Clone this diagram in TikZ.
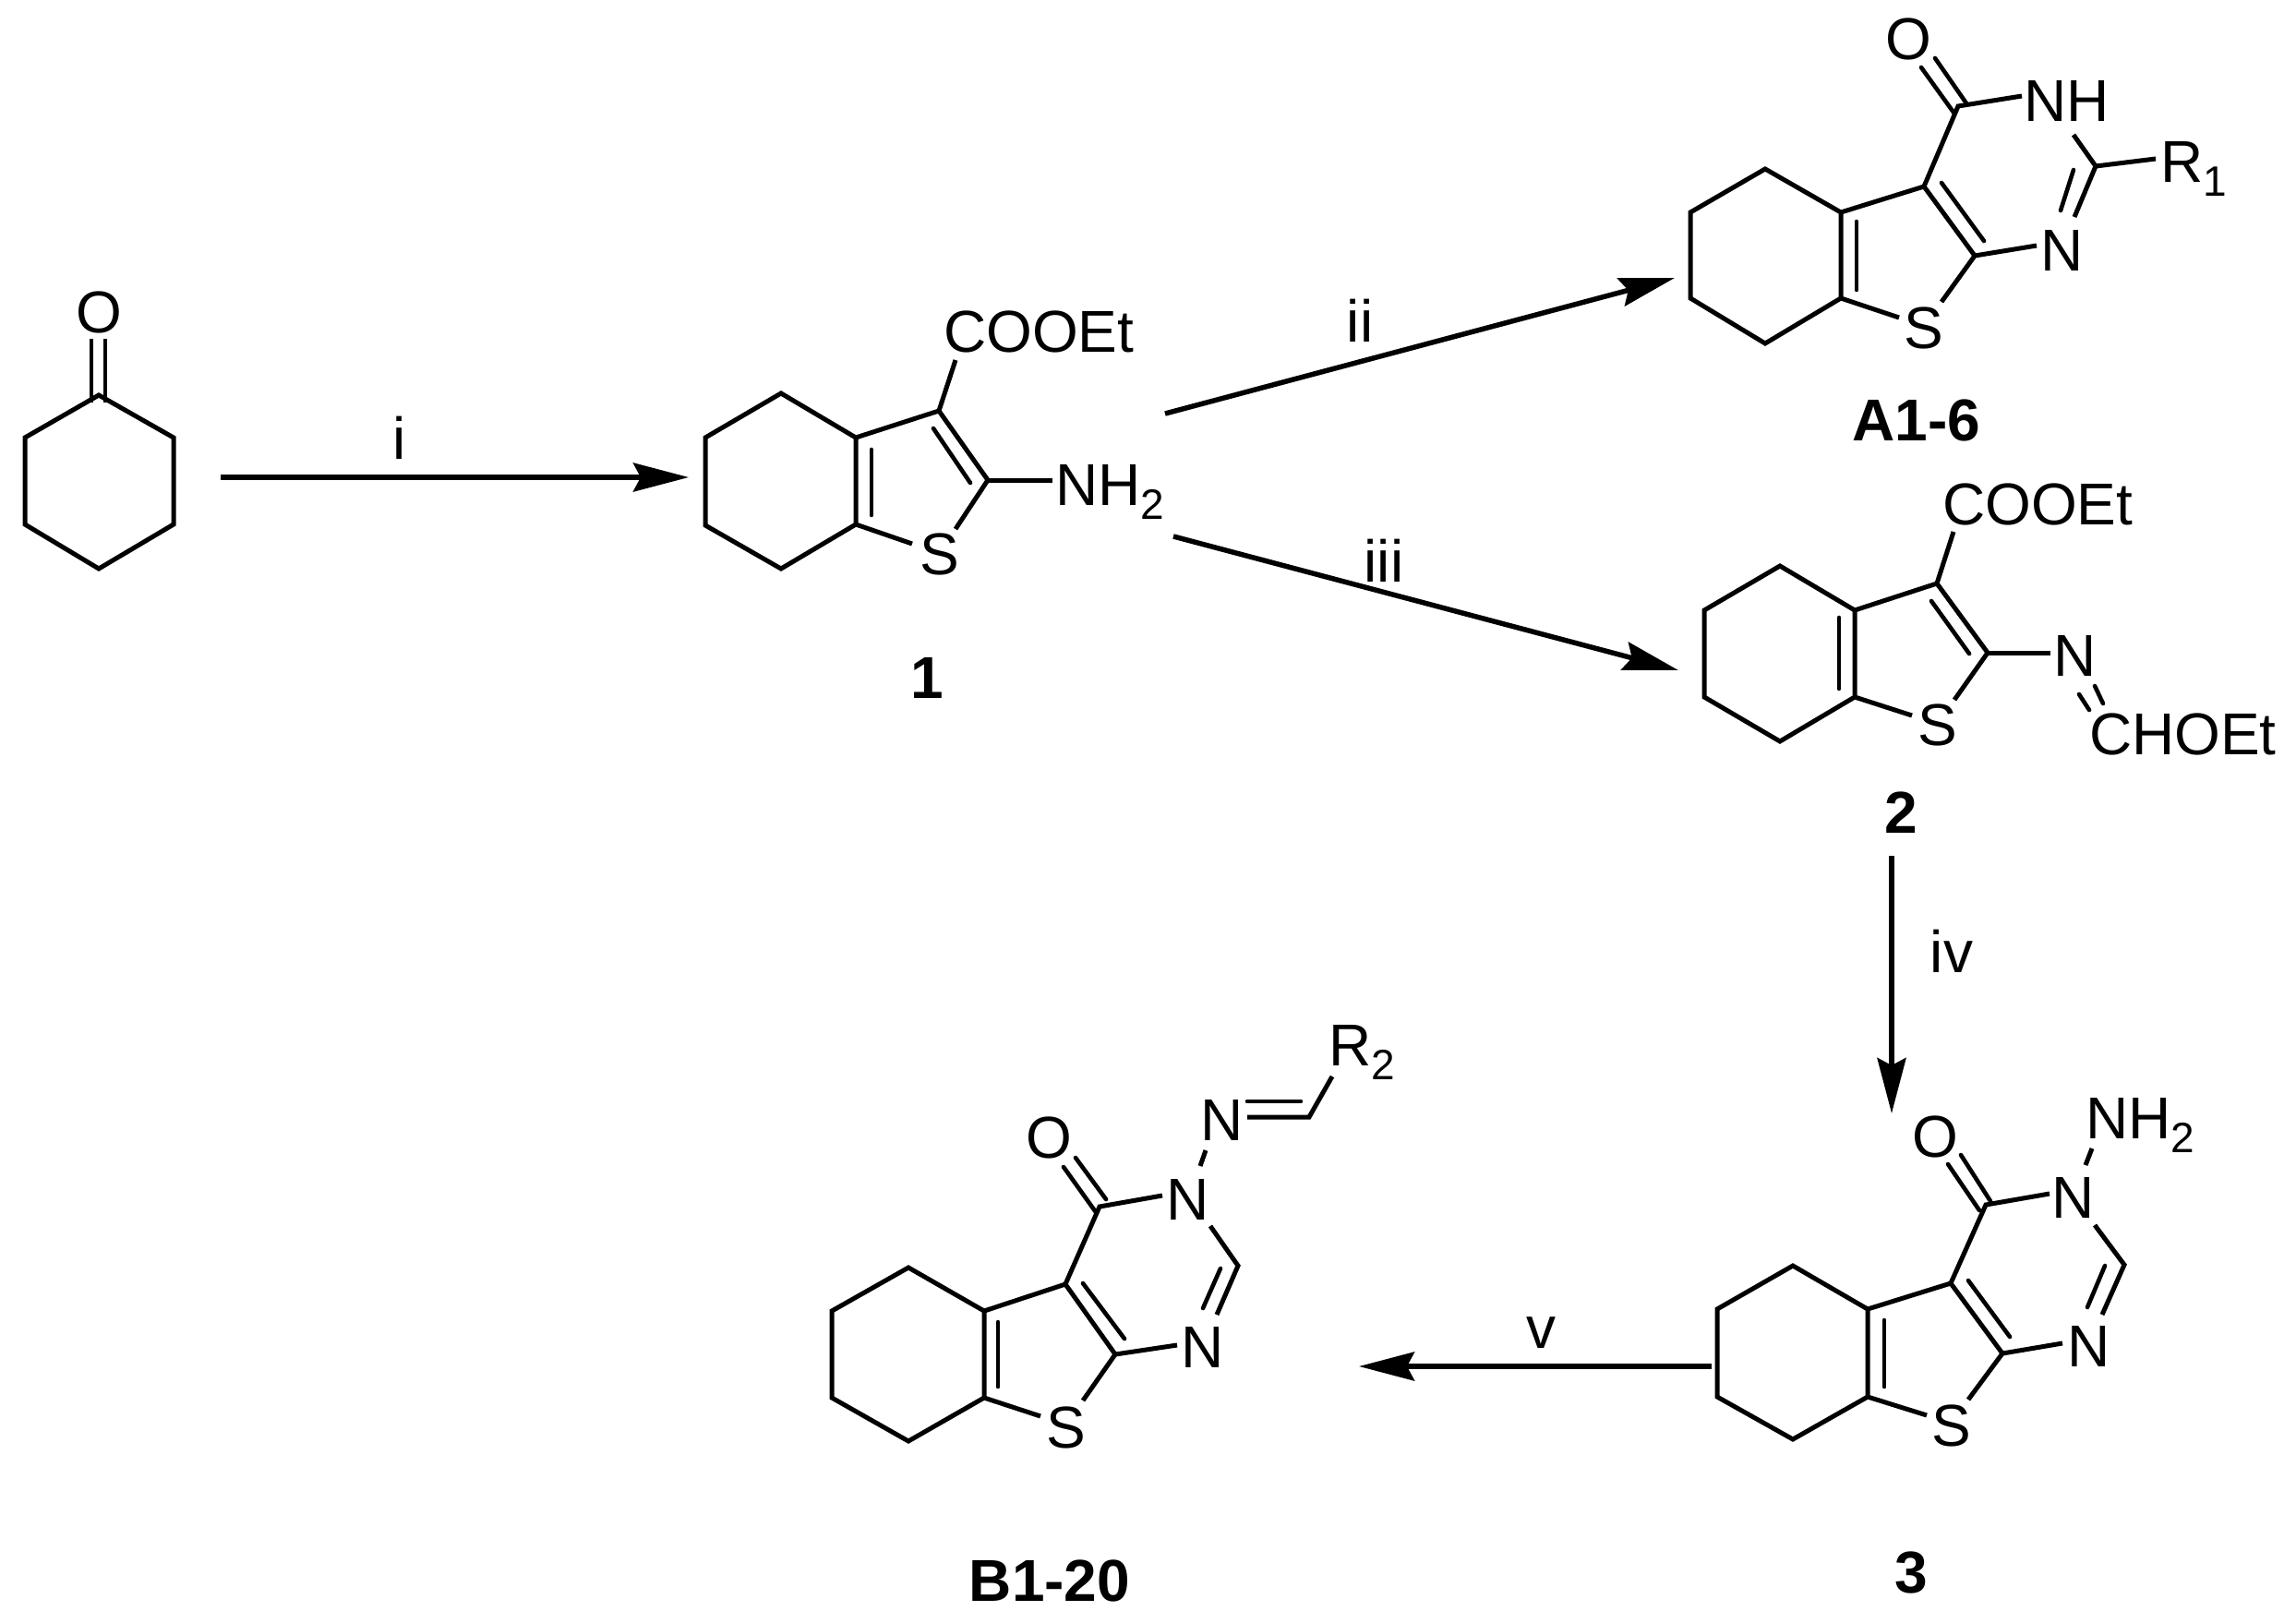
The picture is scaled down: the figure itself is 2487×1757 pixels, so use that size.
\documentclass[tikz,border=0pt]{standalone}
\usepackage{fontspec}
\setmainfont{Liberation Sans}
\usetikzlibrary{arrows.meta}
\newcommand{\subs}[1]{\raisebox{-15pt}{\fontsize{46}{46}\selectfont #1}}
\tikzset{
  bond/.style={line width=5pt,line join=miter,line cap=butt,black},
  inner/.style={line width=4.6pt,line cap=round,black},
  txt/.style={inner sep=0pt,outer sep=0pt,anchor=base,font=\fontsize{64}{64}\selectfont},
  txtw/.style={txt,anchor=base west},
  cpd/.style={txt,font=\fontsize{64}{64}\selectfont\bfseries},
  rxn/.style={line width=5.5pt,black,-{Stealth[length=60pt,width=31pt,inset=8pt]}},
}
\begin{document}
\begin{tikzpicture}[x=1pt,y=-1pt]
\useasboundingbox (0,0) rectangle (2487,1757);
\fill[white] (0,0) rectangle (2487,1757);

% cyclohexanone
\draw[bond] (107,428) -- (188,474) -- (188,568) -- (107,616) -- (27,568) -- (27,474) -- cycle;
\draw[bond,line width=4.6pt] (99,367) -- (99,436) (114,367) -- (114,436);
\node[txt] (o0) at (107,360) {O};

% compound 1
\draw[bond] (927,474) -- (846,426) -- (764,474) -- (764,569) -- (846,616) -- (927,568) -- cycle;
\draw[bond] (927,474) -- (1017,445) -- (1070,520);
\draw[bond] (1017,445) -- (1035,390);
\draw[bond] (927,568) -- (988,589);
\draw[bond] (1070,520) -- (1035,573);
\draw[bond] (1070,520) -- (1140,520);
\draw[inner] (944,487) -- (944,558);
\draw[inner] (1011,464) -- (1051,523);
\node[txtw] (ester1) at (1022,381) {COOEt};
\node[txtw] (nh1) at (1143,547) {NH\subs{2}};
\node[txt] (s1) at (1018,622) {S};
\node[cpd] (c1) at (1004,756) {1};

% A1-6
\draw[bond] (1994,230) -- (1912,183) -- (1831,230) -- (1831,323) -- (1912,372) -- (1994,323) -- cycle;
\draw[bond] (1994,230) -- (2084,202) -- (2139,277);
\draw[bond] (2084,202) -- (2121,115) -- (2190,104);
\draw[bond] (1994,323) -- (2057,344);
\draw[bond] (2139,277) -- (2103,327);
\draw[bond] (2139,277) -- (2206,266);
\draw[bond] (2246,146) -- (2270,180) -- (2247,235);
\draw[bond] (2270,180) -- (2335,172);
\draw[inner] (2011,240) -- (2011,314);
\draw[inner] (2103,198) -- (2149,261);
\draw[inner] (2246,184) -- (2232,228);
\draw[inner] (2117,123) -- (2081,73);
\draw[inner] (2130,112) -- (2096,63);
\node[txt] (oa) at (2067,64) {O};
\node[txtw] (nha) at (2192,131) {NH};
\node[txtw] (ra) at (2340,197) {R\subs{1}};
\node[txt] (na) at (2234,293) {N};
\node[txt] (sa) at (2084,377) {S};
\node[cpd] (ca) at (2076,477) {A1-6};

% compound 2
\draw[bond] (2009,661) -- (1928,613) -- (1846,661) -- (1846,755) -- (1928,803) -- (2009,755) -- cycle;
\draw[bond] (2009,661) -- (2098,632) -- (2153,707);
\draw[bond] (2098,632) -- (2116,576);
\draw[bond] (2009,755) -- (2071,775);
\draw[bond] (2153,707) -- (2117,758);
\draw[bond] (2153,707) -- (2221,707);
\draw[inner] (1992,669) -- (1992,746);
\draw[inner] (2092,651) -- (2133,708);
\draw[inner] (2252,752) -- (2263,769);
\draw[inner] (2269,743) -- (2278,762);
\node[txtw] (ester2) at (2104,568) {COOEt};
\node[txt] (n2) at (2248,732) {N};
\node[txtw] (ch2) at (2263,817) {CHOEt};
\node[txt] (s2) at (2099,807) {S};
\node[cpd] (c2) at (2059,902) {2};

% compound 3
\draw[bond] (2023,1418) -- (1942,1371) -- (1860,1418) -- (1860,1513) -- (1942,1559) -- (2023,1513) -- cycle;
\draw[bond] (2023,1418) -- (2113,1390) -- (2169,1466);
\draw[bond] (2113,1390) -- (2151,1305) -- (2220,1293);
\draw[bond] (2023,1513) -- (2087,1533);
\draw[bond] (2169,1466) -- (2132,1516);
\draw[bond] (2169,1466) -- (2234,1455);
\draw[bond] (2269,1327) -- (2301,1370) -- (2277,1424);
\draw[bond] (2259,1262) -- (2266,1244);
\draw[inner] (2041,1430) -- (2041,1502);
\draw[inner] (2132,1387) -- (2177,1448);
\draw[inner] (2280,1371) -- (2261,1416);
\draw[inner] (2144,1311) -- (2110,1261);
\draw[inner] (2156,1301) -- (2124,1251);
\node[txt] (o3) at (2096,1253) {O};
\node[txtw] (nh3) at (2259,1233) {NH\subs{2}};
\node[txt] (n3a) at (2246,1319) {N};
\node[txt] (n3b) at (2263,1480) {N};
\node[txt] (s3) at (2114,1566) {S};
\node[cpd] (c3) at (2070,1725) {3};

% B1-20
\draw[bond] (1066,1420) -- (984,1373) -- (901,1420) -- (901,1514) -- (984,1561) -- (1066,1514) -- cycle;
\draw[bond] (1066,1420) -- (1154,1391) -- (1208,1467);
\draw[bond] (1154,1391) -- (1191,1307) -- (1259,1295);
\draw[bond] (1066,1514) -- (1127,1534);
\draw[bond] (1208,1467) -- (1173,1517);
\draw[bond] (1208,1467) -- (1275,1457);
\draw[bond] (1311,1328) -- (1341,1371) -- (1318,1424);
\draw[bond] (1300,1263) -- (1306,1246);
\draw[bond] (1351,1210) -- (1418,1210) -- (1443,1166);
\draw[inner] (1081,1432) -- (1081,1502);
\draw[inner] (1173,1390) -- (1218,1450);
\draw[inner] (1322,1374) -- (1303,1417);
\draw[inner] (1187,1313) -- (1152,1264);
\draw[inner] (1198,1299) -- (1165,1254);
\draw[inner] (1351,1193) -- (1409,1193);
\node[txt] (ob) at (1136,1254) {O};
\node[txt] (nb3) at (1287,1321) {N};
\node[txt] (nbi) at (1324,1235) {N};
\node[txtw] (rb) at (1439,1154) {R\subs{2}};
\node[txt] (nb1) at (1303,1481) {N};
\node[txt] (sb) at (1155,1568) {S};
\node[cpd] (cb) at (1137,1734) {B1-20};

% reaction arrows
\coordinate (i0) at (239,517);   \coordinate (i1) at (746,517);
\coordinate (ii0) at (1262,448); \coordinate (ii1) at (1814,301);
\coordinate (iii0) at (1271,581);\coordinate (iii1) at (1818,726);
\coordinate (iv0) at (2049,927); \coordinate (iv1) at (2049,1206);
\coordinate (v0) at (1854,1480); \coordinate (v1) at (1472,1480);
\draw[rxn] (i0) -- (i1);
\draw[rxn] (ii0) -- (ii1);
\draw[rxn] (iii0) -- (iii1);
\draw[rxn] (iv0) -- (iv1);
\draw[rxn] (v0) -- (v1);
\node[txt] (li) at (433,497) {i};
\node[txt] (lii) at (1473,370) {ii};
\node[txt] (liii) at (1499,630) {iii};
\node[txt] (liv) at (2114,1053) {iv};
\node[txt] (lv) at (1669,1460) {v};
\end{tikzpicture}
\end{document}
